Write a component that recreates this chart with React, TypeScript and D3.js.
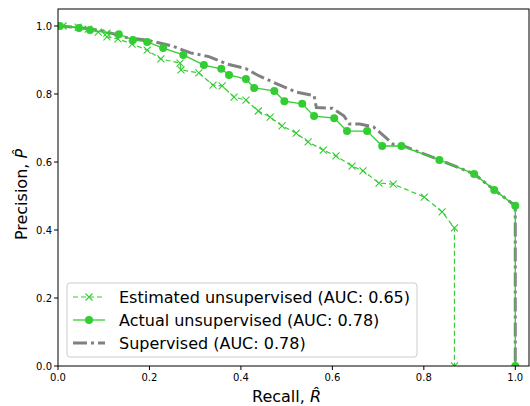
import React, { useEffect, useRef } from "react";
import * as d3 from "d3";

// estimated unsupervised PR points (recall, precision)
const estRecall = [0.011, 0.044, 0.066, 0.088, 0.107, 0.107, 0.131, 0.162, 0.195, 0.225, 0.267, 0.269, 0.308, 0.339, 0.359, 0.385, 0.411, 0.438, 0.464, 0.49, 0.521, 0.547, 0.58, 0.608, 0.643, 0.667, 0.702, 0.733, 0.801, 0.84, 0.867, 0.867];
const estPrecision = [1.0, 0.997, 0.991, 0.982, 0.979, 0.968, 0.962, 0.947, 0.929, 0.903, 0.891, 0.871, 0.862, 0.826, 0.824, 0.791, 0.782, 0.75, 0.732, 0.706, 0.685, 0.659, 0.635, 0.618, 0.588, 0.574, 0.538, 0.535, 0.497, 0.453, 0.406, 0.0];

// actual unsupervised
const actRecall = [0.0, 0.004, 0.046, 0.07, 0.133, 0.164, 0.195, 0.23, 0.274, 0.319, 0.357, 0.374, 0.411, 0.429, 0.473, 0.495, 0.534, 0.56, 0.604, 0.632, 0.676, 0.709, 0.751, 0.834, 0.91, 0.954, 1.0, 1.0];
const actPrecision = [1.0, 1.0, 0.994, 0.988, 0.976, 0.959, 0.953, 0.935, 0.915, 0.885, 0.874, 0.856, 0.844, 0.818, 0.809, 0.779, 0.771, 0.735, 0.729, 0.691, 0.691, 0.647, 0.647, 0.606, 0.565, 0.518, 0.471, 0.0];

// supervised
const supRecall = [0.0, 0.05, 0.1, 0.15, 0.2, 0.25, 0.29, 0.33, 0.37, 0.41, 0.44, 0.48, 0.52, 0.56, 0.565, 0.6, 0.625, 0.637, 0.66, 0.69, 0.71, 0.735, 0.76, 0.834, 0.91, 0.954, 1.0, 1.0];
const supPrecision = [1.0, 0.995, 0.985, 0.966, 0.957, 0.941, 0.921, 0.91, 0.888, 0.875, 0.853, 0.829, 0.806, 0.795, 0.76, 0.758, 0.736, 0.712, 0.712, 0.703, 0.68, 0.65, 0.645, 0.606, 0.565, 0.518, 0.471, 0.0];

const ticks = [0.0, 0.2, 0.4, 0.6, 0.8, 1.0];
const legendLabels = [
  "Estimated unsupervised (AUC: 0.65)",
  "Actual unsupervised (AUC: 0.78)",
  "Supervised (AUC: 0.78)",
];

const GREEN = "#32cd32";
const GRAY = "#808080";

const App = () => {
  const ref = useRef<SVGSVGElement>(null);

  useEffect(() => {
    const svg = d3.select(ref.current);
    svg.selectAll("*").remove();
    const left = 58, top = 9, right = 529, bottom = 366;
    const x = d3.scaleLinear().domain([0, 1.03]).range([left, right]);
    const y = d3.scaleLinear().domain([0, 1.05]).range([bottom, top]);
    const font = "DejaVu Sans, sans-serif";

    const g = svg.append("g");
    const clip = svg.append("clipPath").attr("id", "plotclip");
    clip.append("rect").attr("x", left).attr("y", top).attr("width", right - left).attr("height", bottom - top);

    const line = d3.line<[number, number]>().x((d) => x(d[0])).y((d) => y(d[1]));
    const zip = (a: number[], b: number[]) => a.map((v, i) => [v, b[i]] as [number, number]);

    const plot = g.append("g").attr("clip-path", "url(#plotclip)");

    // supervised
    plot.append("path")
      .attr("d", line(zip(supRecall, supPrecision)))
      .attr("fill", "none").attr("stroke", GRAY).attr("stroke-width", 3)
      .attr("stroke-dasharray", "14,4,3,4");

    // actual unsupervised
    const act = zip(actRecall, actPrecision);
    plot.append("path")
      .attr("d", line(act))
      .attr("fill", "none").attr("stroke", GREEN).attr("stroke-width", 1.3);
    plot.selectAll(".dot").data(act).enter().append("circle")
      .attr("cx", (d) => x(d[0])).attr("cy", (d) => y(d[1]))
      .attr("r", 4).attr("fill", GREEN);

    // estimated unsupervised
    const est = zip(estRecall, estPrecision);
    plot.append("path")
      .attr("d", line(est))
      .attr("fill", "none").attr("stroke", GREEN).attr("stroke-width", 1.2)
      .attr("stroke-dasharray", "5,3");
    plot.selectAll(".xm").data(est).enter().append("path")
      .attr("d", (d) => {
        const cx = x(d[0]), cy = y(d[1]), s = 3.5;
        return `M${cx - s},${cy - s}L${cx + s},${cy + s}M${cx - s},${cy + s}L${cx + s},${cy - s}`;
      })
      .attr("stroke", GREEN).attr("stroke-width", 1.1);

    // frame
    g.append("rect").attr("x", left).attr("y", top).attr("width", right - left).attr("height", bottom - top)
      .attr("fill", "none").attr("stroke", "black").attr("stroke-width", 1);

    // ticks
    ticks.forEach((t) => {
      g.append("line").attr("x1", x(t)).attr("x2", x(t)).attr("y1", bottom).attr("y2", bottom + 4).attr("stroke", "black");
      g.append("text").attr("x", x(t)).attr("y", bottom + 15).attr("text-anchor", "middle")
        .attr("font-family", font).attr("font-size", 10).text(t.toFixed(1));
      g.append("line").attr("x1", left - 4).attr("x2", left).attr("y1", y(t)).attr("y2", y(t)).attr("stroke", "black");
      g.append("text").attr("x", left - 6).attr("y", y(t) + 3.5).attr("text-anchor", "end")
        .attr("font-family", font).attr("font-size", 10).text(t.toFixed(1));
    });

    // axis labels
    const xl = g.append("text").attr("x", (left + right) / 2 - 7).attr("y", 402).attr("text-anchor", "middle")
      .attr("font-family", font).attr("font-size", 16);
    xl.append("tspan").text("Recall, ");
    xl.append("tspan").attr("font-style", "italic").text("R\u0302");

    const yl = g.append("text").attr("transform", `translate(27,${(top + bottom) / 2 + 7}) rotate(-90)`)
      .attr("text-anchor", "middle").attr("font-family", font).attr("font-size", 16);
    yl.append("tspan").text("Precision, ");
    yl.append("tspan").attr("font-style", "italic").text("P\u0302");

    // legend
    const lg = g.append("g");
    lg.append("rect").attr("x", 67).attr("y", 283).attr("width", 350).attr("height", 74).attr("rx", 3)
      .attr("fill", "white").attr("fill-opacity", 0.8).attr("stroke", "#cccccc");
    legendLabels.forEach((lab, i) => {
      const ly = 297 + i * 23;
      const item = lg.append("g");
      if (i === 0) {
        item.append("line").attr("x1", 73).attr("x2", 105).attr("y1", ly).attr("y2", ly)
          .attr("stroke", GREEN).attr("stroke-width", 1.2).attr("stroke-dasharray", "5,3");
        item.append("path").attr("d", `M${89 - 3.5},${ly - 3.5}L${89 + 3.5},${ly + 3.5}M${89 - 3.5},${ly + 3.5}L${89 + 3.5},${ly - 3.5}`)
          .attr("stroke", GREEN).attr("stroke-width", 1.1);
      } else if (i === 1) {
        item.append("line").attr("x1", 73).attr("x2", 105).attr("y1", ly).attr("y2", ly)
          .attr("stroke", GREEN).attr("stroke-width", 1.3);
        item.append("circle").attr("cx", 89).attr("cy", ly).attr("r", 4).attr("fill", GREEN);
      } else {
        item.append("line").attr("x1", 73).attr("x2", 105).attr("y1", ly).attr("y2", ly)
          .attr("stroke", GRAY).attr("stroke-width", 3).attr("stroke-dasharray", "14,4,3,4");
      }
      item.append("text").attr("x", 119).attr("y", ly + 5.5).attr("font-family", font).attr("font-size", 16).text(lab);
    });
  }, []);

  return (
    <svg ref={ref} width={530} height={406} style={{ position: "absolute", left: 0, top: 0, display: "block" }}></svg>
  );
};

export default App;
